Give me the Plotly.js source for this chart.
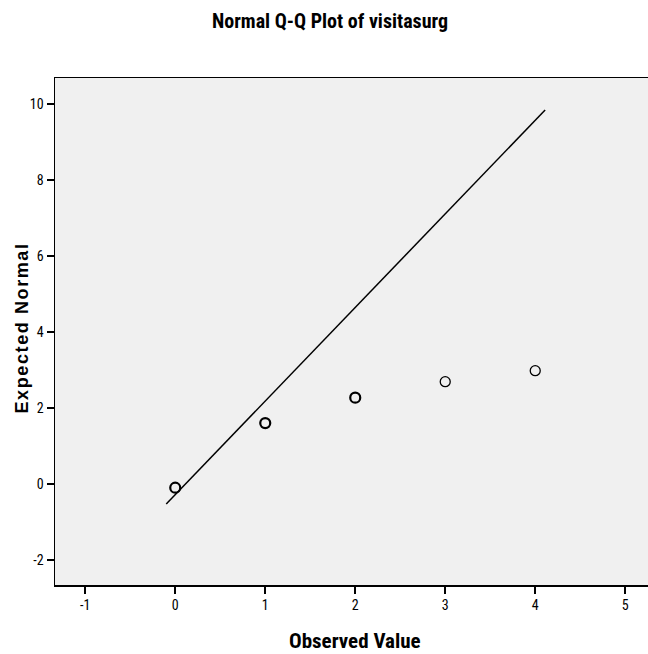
<!DOCTYPE html>
<html><head><meta charset="utf-8">
<script src="https://cdn.plot.ly/plotly-3.0.1.min.js"></script>
<style>html,body{margin:0;padding:0;background:#fff}</style>
</head><body>
<div id="chart" style="width:648px;height:654px"></div>
<script>
const observed = [0, 1, 2, 3, 4];
const expected = [-0.1, 1.6, 2.27, 2.69, 2.98];
const markerWidths = [2.2, 2.2, 2.2, 1.3, 1.3];
const lineX = [-0.1, 4.11];
const lineY = [-0.53, 9.84];
const xTickVals = [-1, 0, 1, 2, 3, 4, 5];
const xTickText = ['-1', '0', '1', '2', '3', '4', '5'];
const yTickVals = [-2, 0, 2, 4, 6, 8, 10];
const yTickText = ['-2', '0', '2', '4', '6', '8', '10'];
const COND = '"Roboto Condensed", "DejaVu Sans Condensed", sans-serif';
const ARIAL = '"Liberation Sans", Arial, sans-serif';

const traces = [
  {x: lineX, y: lineY, mode: 'lines', type: 'scatter', line: {color: '#000', width: 1.5}, hoverinfo: 'none', showlegend: false},
  {x: observed, y: expected, mode: 'markers', type: 'scatter',
   marker: {symbol: 'circle-open', size: 10, color: '#000', line: {color: '#000', width: markerWidths}}, showlegend: false}
];
const layout = {
  width: 648, height: 654,
  margin: {l: 55, r: 0, t: 78, b: 69},
  paper_bgcolor: '#ffffff', plot_bgcolor: '#f0f0f0',
  title: {text: '<b>Normal Q-Q Plot of visitasurg</b>', x: 330/648, xanchor: 'center', y: 1 - 21/654, yanchor: 'middle',
          font: {family: COND, size: 20, color: '#000'}},
  xaxis: {range: [-1.336, 5.253], tickvals: xTickVals, ticktext: xTickText, showgrid: false, zeroline: false,
          showline: true, linecolor: '#000', linewidth: 1.5, mirror: true,
          ticks: 'outside', ticklen: 7, tickcolor: '#000', tickwidth: 1.5,
          tickfont: {family: COND, size: 14, color: '#000'}},
  yaxis: {range: [-2.66, 10.68], tickvals: yTickVals, ticktext: yTickText, showgrid: false, zeroline: false,
          showline: true, linecolor: '#000', linewidth: 1.5, mirror: false,
          ticks: 'outside', ticklen: 7, tickcolor: '#000', tickwidth: 1.5,
          tickfont: {family: COND, size: 14, color: '#000'}},
  annotations: [
    {text: '<b>Observed Value</b>', xref: 'paper', yref: 'paper', x: (355 - 55) / 593, y: (585 - 641) / 507,
     xanchor: 'center', yanchor: 'middle', showarrow: false, font: {family: COND, size: 21, color: '#000'}},
    {text: '<b><span style="letter-spacing:1.6px">Expected Normal</span></b>', xref: 'paper', yref: 'paper',
     x: (21.5 - 55) / 593, y: (585 - 328) / 507, textangle: -90,
     xanchor: 'center', yanchor: 'middle', showarrow: false, font: {family: ARIAL, size: 18, color: '#000'}}
  ]
};
Plotly.newPlot('chart', traces, layout, {displayModeBar: false, staticPlot: true});
</script>
</body></html>
